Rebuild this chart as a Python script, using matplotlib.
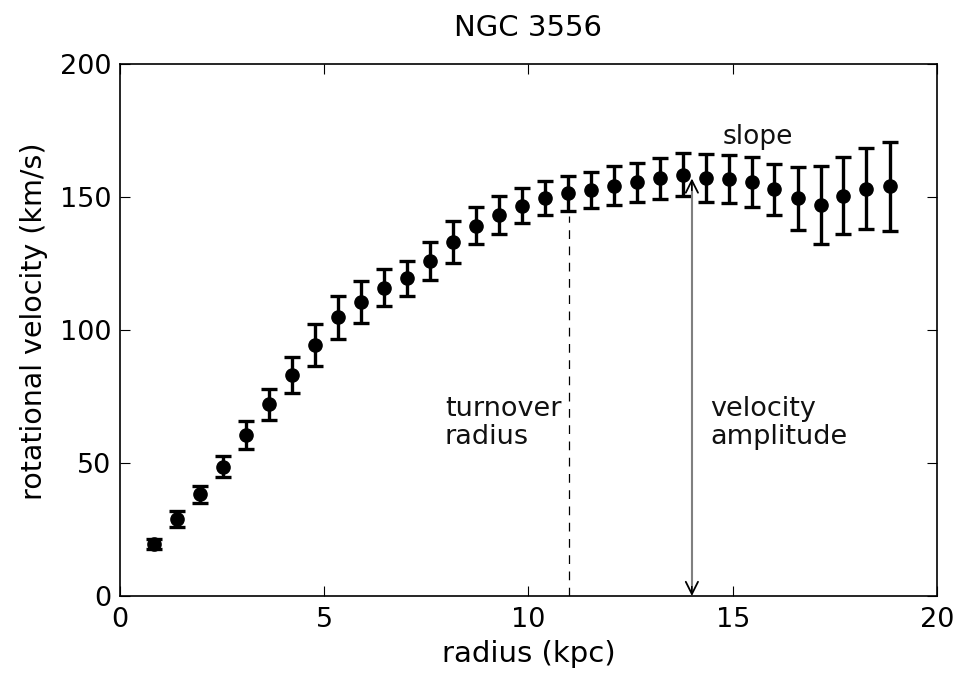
import matplotlib
matplotlib.use("Agg")
import matplotlib.pyplot as plt

# rotation curve of NGC 3556
radius = [0.83, 1.39, 1.96, 2.52, 3.08, 3.65, 4.21, 4.77, 5.33, 5.90, 6.46,
          7.02, 7.58, 8.15, 8.71, 9.27, 9.84, 10.40, 10.96, 11.52, 12.09,
          12.65, 13.21, 13.77, 14.34, 14.90, 15.46, 16.02, 16.59, 17.15,
          17.71, 18.27, 18.84]
velocity = [19.6, 28.8, 38.2, 48.6, 60.4, 72.1, 83.1, 94.4, 104.8, 110.6,
            116.0, 119.5, 126.0, 133.0, 139.3, 143.3, 146.7, 149.5, 151.4,
            152.7, 154.3, 155.5, 157.1, 158.4, 157.1, 156.8, 155.5, 153.0,
            149.5, 147.0, 150.6, 153.2, 154.0]
err = [2.0, 3.0, 3.3, 4.0, 5.3, 5.8, 6.6, 8.0, 8.0, 8.0, 7.0, 6.6, 7.0, 7.9,
       7.0, 7.3, 6.6, 6.4, 6.5, 6.7, 7.3, 7.4, 7.7, 8.0, 9.1, 9.0, 9.4, 9.6,
       11.8, 14.7, 14.4, 15.2, 16.6]

turnover_radius = 11.0
turnover_top = 143
amp_x = 14.0
amp_top = 157

plt.rcParams['font.family'] = ['DejaVu Sans']

fig = plt.figure(figsize=(9.63, 6.75), dpi=100)
ax = fig.add_axes([0.1246, 0.117, 0.8484, 0.788])

ax.errorbar(radius, velocity, yerr=err, fmt='o', color='black', ms=9.5,
            elinewidth=2.4, capsize=5.5, capthick=2.4)

# turnover radius marker
ax.plot([turnover_radius, turnover_radius], [0, turnover_top], color='black',
        lw=0.9, linestyle=(0, (7, 6)))

# velocity amplitude arrow: black heads, grey shaft
ax.annotate('', xy=(amp_x, 0), xytext=(amp_x, amp_top),
            arrowprops=dict(arrowstyle='<->', color='black', lw=1.3,
                            mutation_scale=22, shrinkA=0, shrinkB=0))
ax.plot([amp_x, amp_x], [4, amp_top - 5], color='0.5', lw=1.5, zorder=5)

ax.text(7.95, 65, 'turnover\nradius', fontsize=19.5,
        va='center', ha='left', linespacing=1.1, color='#111111')
ax.text(14.45, 65, 'velocity\namplitude', fontsize=19.5,
        va='center', ha='left', linespacing=1.1, color='#111111')
ax.text(14.75, 172.5, 'slope', fontsize=19,
        va='center', ha='left', color='#111111')

ax.set_xlim(0, 20)
ax.set_ylim(0, 200)
ax.set_xticks([0, 5, 10, 15, 20])
ax.set_yticks([0, 50, 100, 150, 200])
ax.tick_params(direction='in', top=True, right=True, length=7, width=0.8,
               labelsize=19.5)
ax.tick_params(axis='x', pad=8)
ax.tick_params(axis='y', pad=6)
for s in ax.spines.values():
    s.set_linewidth(1.2)

ax.set_xlabel('radius (kpc)', fontsize=21, labelpad=5)
ax.set_ylabel('rotational velocity (km/s)', fontsize=20.5)
ax.yaxis.set_label_coords(-0.088, 0.517)
ax.set_title('NGC 3556', fontsize=21, pad=20)

fig.savefig('out.png', dpi=100)
